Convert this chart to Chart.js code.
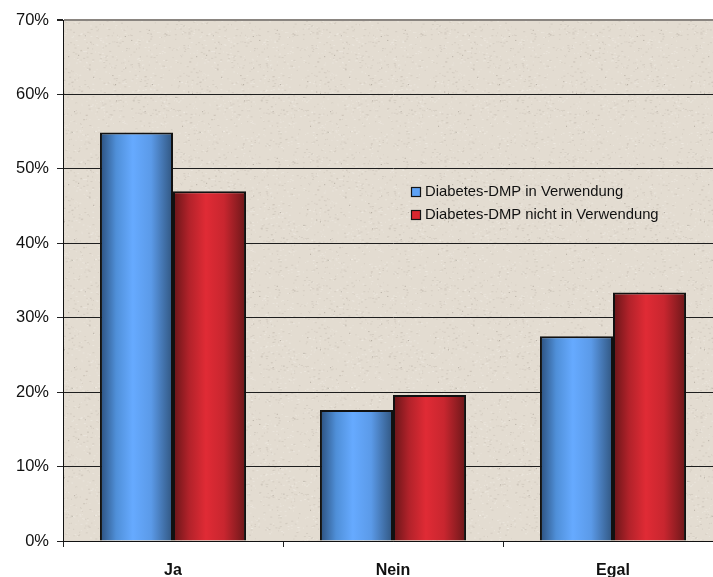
<!DOCTYPE html>
<html>
<head>
<meta charset="utf-8">
<script src="https://cdn.jsdelivr.net/npm/chart.js@4.4.1/dist/chart.umd.min.js"></script>
<style>
  html, body { margin: 0; padding: 0; background: #ffffff; overflow: hidden; }
  #wrap { width: 713px; height: 577px; overflow: hidden; }
  #c { display: block; }
</style>
</head>
<body>
<div id="wrap"><canvas id="c" width="723" height="577"></canvas></div>
<script>
// Survey answers, share of respondents in percent
const categories = ['Ja', 'Nein', 'Egal'];
const dmpUsed = [54.9, 17.6, 27.5];
const dmpNotUsed = [47.0, 19.6, 33.4];
const seriesLabels = ['Diabetes-DMP in Verwendung', 'Diabetes-DMP nicht in Verwendung'];
const yMax = 70;
const yStep = 10;

const CAT_PCT = 0.664;
const FONT = '"Liberation Sans", Arial, Helvetica, sans-serif';

// cylinder-like horizontal shading for each bar
const blueStops = ['#2b4f7c', '#4f8fd8', '#66aaff', '#5b9ae8', '#30557f'];
const redStops = ['#661518', '#b2222a', '#e02b35', '#c8262f', '#6a1719'];
const blueSolid = '#5ea2f5';
const redSolid = '#d9272f';

function barFill(context, stops, solid) {
  const chart = context.chart;
  const xs = chart.scales && chart.scales.x;
  if (context.dataIndex === undefined || !xs || xs.right === undefined) return solid;
  const catW = (xs.right - xs.left) / categories.length;
  const barW = catW * CAT_PCT / 2;
  const center = xs.getPixelForValue(context.dataIndex);
  const left = center - barW + context.datasetIndex * barW;
  const g = chart.ctx.createLinearGradient(left, 0, left + barW, 0);
  g.addColorStop(0, stops[0]);
  g.addColorStop(0.22, stops[1]);
  g.addColorStop(0.45, stops[2]);
  g.addColorStop(0.7, stops[3]);
  g.addColorStop(1, stops[4]);
  return g;
}

// paper-like speckled backdrop for the plot area
function makeTexture() {
  const size = 128;
  const cv = document.createElement('canvas');
  cv.width = size; cv.height = size;
  const c = cv.getContext('2d');
  c.fillStyle = '#e3dcd1';
  c.fillRect(0, 0, size, size);
  let s = 12345;
  const next = () => { s = (s * 1103515245 + 12345) & 0x7fffffff; return s / 0x7fffffff; };
  for (let i = 0; i < 900; i++) {
    const x = next() * size, y = next() * size;
    const v = next();
    c.fillStyle = v < 0.5 ? 'rgba(150,140,125,0.18)' : 'rgba(250,247,240,0.35)';
    c.fillRect(x, y, 1 + Math.floor(next() * 2), 1);
  }
  for (let i = 0; i < 25; i++) {
    c.fillStyle = 'rgba(90,80,70,0.35)';
    c.fillRect(next() * size, next() * size, 1, 1);
  }
  return cv;
}

const backdrop = {
  id: 'backdrop',
  beforeDraw(chart) {
    const { ctx, chartArea: a } = chart;
    ctx.save();
    ctx.fillStyle = ctx.createPattern(makeTexture(), 'repeat');
    ctx.fillRect(a.left, a.top, a.right - a.left, a.bottom - a.top);
    ctx.restore();
  }
};

// legend placed inside the plot area
const innerLegend = {
  id: 'innerLegend',
  afterDraw(chart) {
    const { ctx, chartArea: a } = chart;
    const x0 = a.left + 348;
    const y0 = a.top + 172;
    const fills = [blueSolid, redSolid];
    ctx.save();
    ctx.font = '14.8px ' + FONT;
    ctx.textBaseline = 'middle';
    chart.data.datasets.forEach((ds, i) => {
      const y = y0 + i * 23;
      ctx.fillStyle = fills[i];
      ctx.fillRect(x0, y - 5, 10, 10);
      ctx.strokeStyle = '#151515';
      ctx.lineWidth = 1.2;
      ctx.strokeRect(x0 + 0.5, y - 4.5, 9, 9);
      ctx.fillStyle = '#111111';
      ctx.fillText(ds.label, x0 + 14, y);
    });
    ctx.restore();
  }
};

new Chart(document.getElementById('c'), {
  type: 'bar',
  data: {
    labels: categories,
    datasets: [
      {
        label: seriesLabels[0],
        data: dmpUsed,
        backgroundColor: ctx => barFill(ctx, blueStops, blueSolid),
        borderColor: '#111111',
        borderWidth: 2,
        categoryPercentage: CAT_PCT,
        barPercentage: 1
      },
      {
        label: seriesLabels[1],
        data: dmpNotUsed,
        backgroundColor: ctx => barFill(ctx, redStops, redSolid),
        borderColor: '#111111',
        borderWidth: 2,
        categoryPercentage: CAT_PCT,
        barPercentage: 1
      }
    ]
  },
  options: {
    responsive: false,
    animation: false,
    layout: { padding: { top: 20, right: 0, left: 0, bottom: 0 } },
    plugins: {
      legend: { display: false },
      tooltip: { enabled: false }
    },
    scales: {
      x: {
        grid: {
          offset: true,
          drawOnChartArea: false,
          drawTicks: true,
          tickLength: 6,
          color: '#222222'
        },
        border: { display: true, color: '#111111', width: 1 },
        ticks: {
          color: '#111111',
          padding: 14,
          font: { family: FONT, size: 16, weight: 'bold' }
        },
        afterFit(scale) { scale.height = 36; }
      },
      y: {
        min: 0,
        max: yMax,
        ticks: {
          stepSize: yStep,
          color: '#111111',
          padding: 8,
          font: { family: FONT, size: 16.5 },
          callback: v => v + '%'
        },
        grid: {
          color: ctx => (ctx.tick && ctx.tick.value === yMax ? '#8a8580' : '#1e1e1e'),
          lineWidth: ctx => (ctx.tick && ctx.tick.value === yMax ? 2 : 1),
          tickLength: 6,
          tickColor: '#222222'
        },
        border: { display: true, color: '#111111', width: 1 },
        afterFit(scale) { scale.width = 63; }
      }
    }
  },
  plugins: [backdrop, innerLegend]
});
</script>
</body>
</html>
